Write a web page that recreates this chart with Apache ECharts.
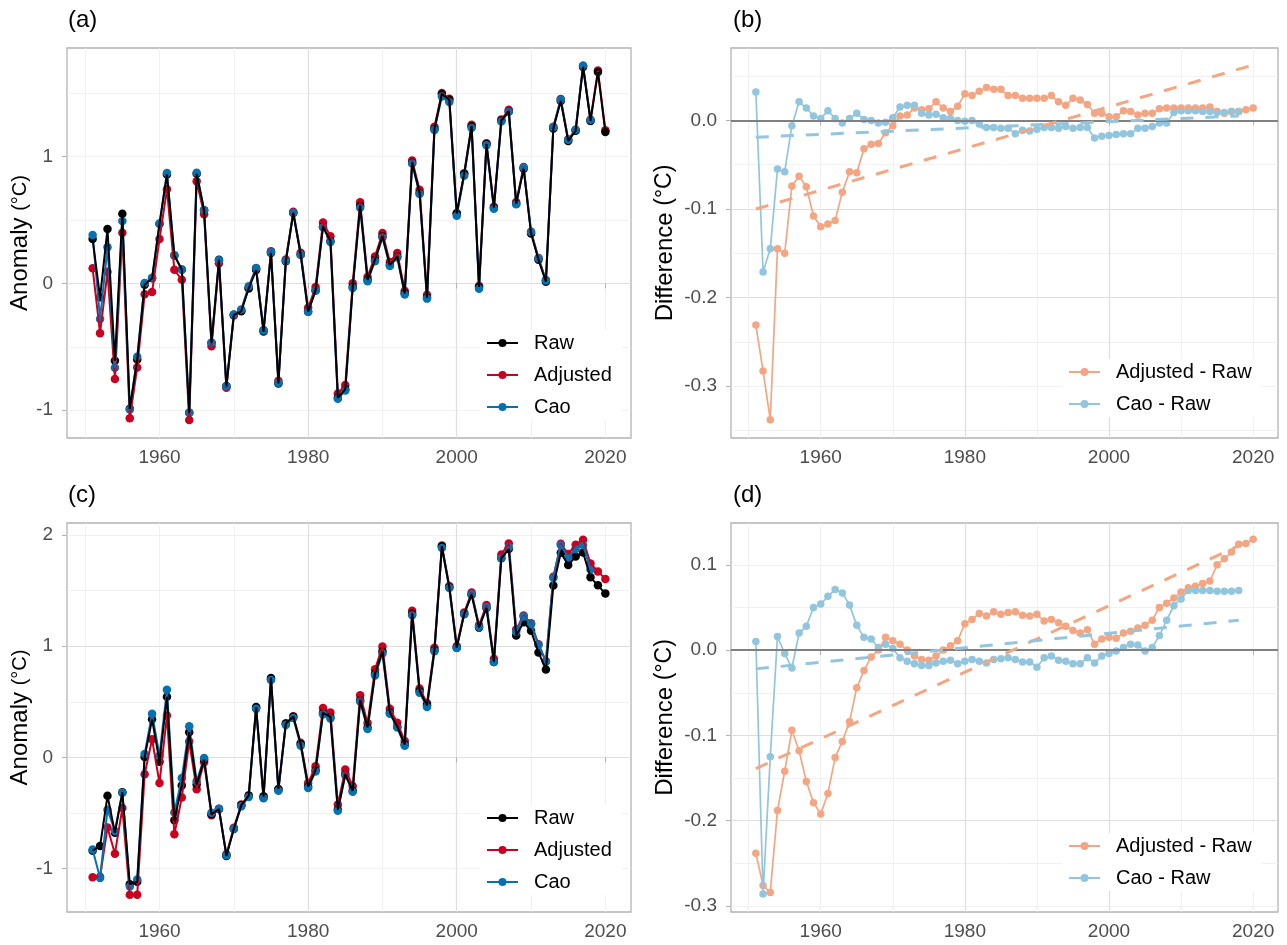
<!DOCTYPE html>
<html>
<head>
<meta charset="utf-8">
<title>Anomaly and difference series</title>
<script src="https://cdn.jsdelivr.net/npm/echarts@6.0.0/dist/echarts.min.js"></script>
<style>
  html, body { margin: 0; padding: 0; background: #fff; }
  #chart { width: 1287px; height: 945px; }
</style>
</head>
<body>
<div id="chart"></div>
<script>
// ---- data ----
const years = [1951, 1952, 1953, 1954, 1955, 1956, 1957, 1958, 1959, 1960,
  1961, 1962, 1963, 1964, 1965, 1966, 1967, 1968, 1969, 1970,
  1971, 1972, 1973, 1974, 1975, 1976, 1977, 1978, 1979, 1980,
  1981, 1982, 1983, 1984, 1985, 1986, 1987, 1988, 1989, 1990,
  1991, 1992, 1993, 1994, 1995, 1996, 1997, 1998, 1999, 2000,
  2001, 2002, 2003, 2004, 2005, 2006, 2007, 2008, 2009, 2010,
  2011, 2012, 2013, 2014, 2015, 2016, 2017, 2018, 2019, 2020];

// panel (a)
const rawA = [0.350, -0.110, 0.430, -0.610, 0.550, -0.990, -0.600, -0.010, 0.040, 0.470,
  0.860, 0.220, 0.110, -1.020, 0.865, 0.577, -0.468, 0.186, -0.810, -0.248,
  -0.220, -0.040, 0.105, -0.380, 0.240, -0.790, 0.175, 0.555, 0.226, -0.223,
  -0.056, 0.448, 0.335, -0.903, -0.836, -0.027, 0.613, 0.028, 0.187, 0.372,
  0.145, 0.212, -0.078, 0.953, 0.715, -0.112, 1.218, 1.495, 1.450, 0.552,
  0.865, 1.241, -0.028, 1.100, 0.598, 1.285, 1.357, 0.628, 0.905, 0.394,
  0.186, 0.013, 1.222, 1.440, 1.125, 1.204, 1.708, 1.282, 1.668, 1.195];
const adjA = [0.119, -0.393, 0.092, -0.755, 0.400, -1.064, -0.663, -0.085, -0.068, 0.350,
  0.743, 0.107, 0.029, -1.078, 0.806, 0.545, -0.495, 0.160, -0.824, -0.254,
  -0.215, -0.034, 0.119, -0.368, 0.253, -0.769, 0.189, 0.565, 0.242, -0.193,
  -0.028, 0.481, 0.372, -0.868, -0.801, 0.001, 0.641, 0.053, 0.212, 0.397,
  0.170, 0.240, -0.057, 0.970, 0.740, -0.089, 1.236, 1.503, 1.458, 0.556,
  0.869, 1.252, -0.018, 1.106, 0.606, 1.293, 1.370, 0.642, 0.919, 0.408,
  0.200, 0.027, 1.236, 1.455, 1.135, 1.212, 1.718, 1.292, 1.680, 1.209];
const caoA = [0.382, -0.281, 0.285, -0.665, 0.492, -0.996, -0.579, 0.004, 0.045, 0.472,
  0.871, 0.222, 0.107, -1.018, 0.873, 0.578, -0.468, 0.183, -0.812, -0.245,
  -0.205, -0.023, 0.122, -0.372, 0.246, -0.783, 0.178, 0.557, 0.226, -0.224,
  -0.056, 0.444, 0.327, -0.911, -0.845, -0.036, 0.598, 0.017, 0.175, 0.362,
  0.137, 0.204, -0.087, 0.946, 0.706, -0.120, 1.210, 1.475, 1.432, 0.535,
  0.849, 1.226, -0.043, 1.091, 0.589, 1.278, 1.354, 0.625, 0.914, 0.405,
  0.197, 0.024, 1.232, 1.450, 1.134, 1.213, 1.718, 1.292];

// panel (b)
const adjDiffB = [-0.231, -0.283, -0.338, -0.145, -0.150, -0.074, -0.063, -0.075, -0.108, -0.120,
  -0.117, -0.113, -0.081, -0.058, -0.059, -0.032, -0.027, -0.026, -0.014, -0.006,
  0.005, 0.006, 0.014, 0.012, 0.013, 0.021, 0.014, 0.010, 0.016, 0.030,
  0.028, 0.033, 0.037, 0.035, 0.035, 0.028, 0.028, 0.025, 0.025, 0.025,
  0.025, 0.028, 0.021, 0.017, 0.025, 0.023, 0.018, 0.008, 0.008, 0.004,
  0.004, 0.011, 0.010, 0.006, 0.008, 0.008, 0.013, 0.014, 0.014, 0.014,
  0.014, 0.014, 0.014, 0.015, 0.010, 0.008, 0.010, 0.010, 0.012, 0.014];
const caoDiffB = [0.032, -0.171, -0.145, -0.055, -0.058, -0.006, 0.021, 0.014, 0.005, 0.002,
  0.011, 0.002, -0.003, 0.002, 0.008, 0.001, 0.000, -0.003, -0.002, 0.003,
  0.015, 0.017, 0.017, 0.008, 0.006, 0.007, 0.003, 0.002, 0.000, -0.001,
  0.000, -0.004, -0.008, -0.008, -0.009, -0.009, -0.015, -0.011, -0.012, -0.010,
  -0.008, -0.008, -0.009, -0.007, -0.009, -0.008, -0.008, -0.020, -0.018, -0.017,
  -0.016, -0.015, -0.015, -0.009, -0.009, -0.007, -0.003, -0.003, 0.009, 0.011,
  0.011, 0.011, 0.010, 0.010, 0.009, 0.009, 0.010, 0.010];
const adjTrendB = [[1951, -0.100], [2020, 0.0625]];
const caoTrendB = [[1951, -0.019], [2018, 0.005]];

// panel (c)
const rawC = [-0.838, -0.797, -0.345, -0.677, -0.313, -1.139, -1.117, 0.003, 0.342, -0.038,
  0.545, -0.565, -0.253, 0.226, -0.243, -0.020, -0.511, -0.464, -0.885, -0.643,
  -0.431, -0.343, 0.452, -0.350, 0.714, -0.284, 0.305, 0.365, 0.120, -0.262,
  -0.115, 0.401, 0.364, -0.469, -0.150, -0.300, 0.513, 0.269, 0.751, 0.954,
  0.402, 0.275, 0.116, 1.290, 0.597, 0.468, 0.962, 1.896, 1.528, 0.986,
  1.288, 1.462, 1.166, 1.343, 0.858, 1.789, 1.872, 1.095, 1.214, 1.137,
  0.943, 0.790, 1.545, 1.838, 1.728, 1.804, 1.840, 1.618, 1.546, 1.472];
const adjC = [-1.076, -1.073, -0.629, -0.865, -0.455, -1.233, -1.235, -0.151, 0.163, -0.230,
  0.377, -0.691, -0.360, 0.142, -0.287, -0.044, -0.519, -0.464, -0.870, -0.632,
  -0.424, -0.343, 0.445, -0.361, 0.702, -0.291, 0.305, 0.370, 0.131, -0.231,
  -0.079, 0.444, 0.404, -0.424, -0.108, -0.256, 0.558, 0.310, 0.791, 0.996,
  0.436, 0.311, 0.148, 1.318, 0.620, 0.488, 0.986, 1.903, 1.541, 1.001,
  1.302, 1.482, 1.188, 1.369, 0.887, 1.824, 1.922, 1.150, 1.275, 1.205,
  1.016, 0.865, 1.623, 1.919, 1.828, 1.911, 1.955, 1.742, 1.671, 1.602];
const caoC = [-0.828, -1.083, -0.470, -0.661, -0.317, -1.160, -1.097, 0.031, 0.392, 0.016,
  0.608, -0.494, -0.186, 0.279, -0.214, -0.005, -0.498, -0.461, -0.878, -0.641,
  -0.440, -0.356, 0.436, -0.368, 0.696, -0.299, 0.292, 0.353, 0.104, -0.275,
  -0.126, 0.388, 0.349, -0.480, -0.160, -0.309, 0.502, 0.255, 0.737, 0.934,
  0.393, 0.268, 0.104, 1.277, 0.581, 0.452, 0.953, 1.881, 1.521, 0.982,
  1.287, 1.465, 1.173, 1.349, 0.857, 1.792, 1.889, 1.130, 1.266, 1.197,
  1.013, 0.860, 1.615, 1.908, 1.797, 1.873, 1.909, 1.688];

// panel (d)
const adjDiffD = [-0.238, -0.276, -0.284, -0.188, -0.142, -0.094, -0.118, -0.154, -0.179, -0.192,
  -0.168, -0.126, -0.107, -0.084, -0.044, -0.024, -0.008, 0.000, 0.015, 0.011,
  0.007, 0.000, -0.007, -0.011, -0.012, -0.007, 0.000, 0.005, 0.011, 0.031,
  0.036, 0.043, 0.040, 0.045, 0.042, 0.044, 0.045, 0.041, 0.040, 0.042,
  0.034, 0.036, 0.032, 0.028, 0.023, 0.020, 0.024, 0.007, 0.013, 0.015,
  0.014, 0.020, 0.022, 0.026, 0.029, 0.035, 0.050, 0.055, 0.061, 0.068,
  0.073, 0.075, 0.078, 0.081, 0.100, 0.107, 0.115, 0.124, 0.125, 0.130];
const caoDiffD = [0.010, -0.286, -0.125, 0.016, -0.004, -0.021, 0.020, 0.028, 0.050, 0.054,
  0.063, 0.071, 0.067, 0.053, 0.029, 0.015, 0.013, 0.003, 0.007, 0.002,
  -0.009, -0.013, -0.016, -0.018, -0.018, -0.015, -0.013, -0.012, -0.016, -0.013,
  -0.011, -0.013, -0.015, -0.011, -0.010, -0.009, -0.011, -0.014, -0.014, -0.020,
  -0.009, -0.007, -0.012, -0.013, -0.016, -0.016, -0.009, -0.015, -0.007, -0.004,
  -0.001, 0.003, 0.007, 0.006, -0.001, 0.003, 0.017, 0.035, 0.052, 0.060,
  0.070, 0.070, 0.070, 0.070, 0.069, 0.069, 0.069, 0.070];
const adjTrendD = [[1951, -0.139], [2020, 0.130]];
const caoTrendD = [[1951, -0.022], [2018, 0.035]];

// tick labels
const xTicks = [1960, 1980, 2000, 2020];
const yTicksA = [-1, 0, 1];
const yTicksB = [-0.3, -0.2, -0.1, 0];
const yTicksC = [-1, 0, 1, 2];
const yTicksD = [-0.3, -0.2, -0.1, 0, 0.1];

// ---- styling ----
const FONT = '"Liberation Sans", Arial, sans-serif';
const COL = {
  raw: '#000000', adj: '#CA0020', cao: '#0571B0',
  adjDiff: '#F4A582', caoDiff: '#92C5DE'
};
const X_RANGE = [1947.55, 2023.45];

const panels = [
  { tag: '(a)', grid: { left: 67, top: 48, width: 564, height: 390 },
    yRange: [-1.22, 1.858], step: 1, minor: 0.5, ticks: yTicksA, digits: 0,
    name: 'Anomaly {u|(°C)}', unitSize: 20, nameGap: 32,
    tagPos: { left: 68, top: 8 }, legendPos: { left: 480, top: 330 } },
  { tag: '(b)', grid: { left: 731, top: 48, width: 547, height: 390 },
    yRange: [-0.3585, 0.0817], step: 0.1, minor: 0.05, ticks: yTicksB, digits: 1,
    name: 'Difference {u|(°C)}', unitSize: 23, nameGap: 54,
    tagPos: { left: 733, top: 8 }, legendPos: { left: 1062, top: 359 } },
  { tag: '(c)', grid: { left: 67, top: 523, width: 564, height: 389 },
    yRange: [-1.389, 2.106], step: 1, minor: 0.5, ticks: yTicksC, digits: 0,
    name: 'Anomaly {u|(°C)}', unitSize: 20, nameGap: 32,
    tagPos: { left: 68, top: 483 }, legendPos: { left: 480, top: 805 } },
  { tag: '(d)', grid: { left: 731, top: 523, width: 547, height: 389 },
    yRange: [-0.307, 0.149], step: 0.1, minor: 0.05, ticks: yTicksD, digits: 1,
    name: 'Difference {u|(°C)}', unitSize: 23, nameGap: 54,
    tagPos: { left: 733, top: 483 }, legendPos: { left: 1062, top: 833 } }
];

function labelFor(ticks, digits) {
  return function (v) {
    return ticks.some(t => Math.abs(t - v) < 1e-9) ? v.toFixed(digits) : '';
  };
}

function minorAxis(gi, pos, range, step) {
  return {
    type: 'value', gridIndex: gi, position: pos, min: range[0], max: range[1],
    minInterval: step, maxInterval: step, splitNumber: 8,
    axisLine: { show: false }, axisTick: { show: false }, axisLabel: { show: false },
    splitLine: { show: true, showMinLine: false, showMaxLine: false,
      lineStyle: { color: '#ededed', width: 0.8 } }
  };
}

function majorAxis(gi, pos, range, step, ticks, digits, extra) {
  return Object.assign({
    type: 'value', gridIndex: gi, position: pos, min: range[0], max: range[1],
    minInterval: step, maxInterval: step, splitNumber: 4,
    axisLine: { show: false },
    axisTick: { show: true, length: 5, customValues: ticks,
      lineStyle: { color: '#b3b3b3', width: 1 } },
    axisLabel: { show: true, color: '#4d4d4d', fontSize: 19, fontFamily: FONT,
      formatter: labelFor(ticks, digits) },
    splitLine: { show: true, showMinLine: false, showMaxLine: false,
      lineStyle: { color: '#dedede', width: 1.2 } }
  }, extra);
}

const pairs = (arr) => arr.map((v, i) => [years[i], v]);

function lineSeries(k, name, arr, color, width) {
  return { type: 'line', name: name, xAxisIndex: 2 * k + 1, yAxisIndex: 2 * k + 1,
    data: pairs(arr), showSymbol: false, symbol: 'circle', silent: true,
    lineStyle: { color: color, width: width }, itemStyle: { color: color } };
}
function pointSeries(k, name, arr, color, size) {
  return { type: 'scatter', name: name, xAxisIndex: 2 * k + 1, yAxisIndex: 2 * k + 1,
    data: pairs(arr), symbol: 'circle', symbolSize: size, silent: true,
    itemStyle: { color: color, opacity: 1 } };
}
function trendSeries(k, name, ends, color) {
  return { type: 'line', name: name, xAxisIndex: 2 * k + 1, yAxisIndex: 2 * k + 1,
    data: ends, showSymbol: false, symbol: 'none', silent: true, z: 5,
    lineStyle: { color: color, width: 3, type: [13, 12], cap: 'butt' } };
}
const zeroLine = {
  silent: true, symbol: ['none', 'none'], label: { show: false },
  lineStyle: { color: '#808080', width: 2, type: 'solid' },
  data: [{ yAxis: 0 }]
};

const xAxis = [], yAxis = [], grid = [], title = [], legend = [];
panels.forEach((p, k) => {
  grid.push(Object.assign({ show: true, borderColor: '#b3b3b3', borderWidth: 1.3,
    backgroundColor: 'transparent', containLabel: false, outerBoundsMode: 'none' }, p.grid));
  xAxis.push(minorAxis(k, 'bottom', X_RANGE, 10));
  xAxis.push(majorAxis(k, 'bottom', X_RANGE, 20, xTicks, 0, { axisLabel: {
    show: true, color: '#4d4d4d', fontSize: 19, fontFamily: FONT, margin: 10,
    formatter: labelFor(xTicks, 0) } }));
  yAxis.push(minorAxis(k, 'left', p.yRange, p.minor));
  yAxis.push(majorAxis(k, 'left', p.yRange, p.step, p.ticks, p.digits, {
    name: p.name, nameLocation: 'middle', nameGap: p.nameGap,
    nameTextStyle: { color: '#000', fontSize: 24, fontFamily: FONT,
      rich: { u: { color: '#000', fontSize: p.unitSize, fontFamily: FONT } } }
  }));
  yAxis[yAxis.length - 1].axisLabel.margin = 14;
  title.push(Object.assign({ text: p.tag, padding: 0,
    textStyle: { color: '#000', fontSize: 24, fontWeight: 'normal', fontFamily: FONT } }, p.tagPos));
  const names = (k % 2 === 0) ? ['Raw', 'Adjusted', 'Cao'] : ['Adjusted - Raw', 'Cao - Raw'];
  legend.push(Object.assign({
    data: names, orient: 'vertical', itemWidth: 31, itemHeight: 10, itemGap: 12,
    backgroundColor: '#ffffff', padding: [3, 10, 3, 6], selectedMode: false,
    textStyle: { color: '#000', fontSize: 20, fontFamily: FONT, lineHeight: 20,
      padding: [0, 0, 0, 11] }
  }, p.legendPos));
});

const series = [
  // (a)
  lineSeries(0, 'Adjusted', adjA, COL.adj, 2),
  lineSeries(0, 'Cao', caoA, COL.cao, 2),
  lineSeries(0, 'Raw', rawA, COL.raw, 2),
  pointSeries(0, 'Adjusted', adjA, COL.adj, 8.5),
  pointSeries(0, 'Raw', rawA, COL.raw, 8.5),
  pointSeries(0, 'Cao', caoA, COL.cao, 8.5),
  // (b)
  Object.assign(lineSeries(1, 'Adjusted - Raw', adjDiffB, COL.adjDiff, 1.7), { markLine: zeroLine }),
  pointSeries(1, 'Adjusted - Raw', adjDiffB, COL.adjDiff, 7.5),
  lineSeries(1, 'Cao - Raw', caoDiffB, COL.caoDiff, 1.7),
  pointSeries(1, 'Cao - Raw', caoDiffB, COL.caoDiff, 7.5),
  trendSeries(1, 'Adjusted - Raw trend', adjTrendB, COL.adjDiff),
  trendSeries(1, 'Cao - Raw trend', caoTrendB, COL.caoDiff),
  // (c)
  lineSeries(2, 'Adjusted', adjC, COL.adj, 2),
  lineSeries(2, 'Cao', caoC, COL.cao, 2),
  lineSeries(2, 'Raw', rawC, COL.raw, 2),
  pointSeries(2, 'Adjusted', adjC, COL.adj, 8.5),
  pointSeries(2, 'Raw', rawC, COL.raw, 8.5),
  pointSeries(2, 'Cao', caoC, COL.cao, 8.5),
  // (d)
  Object.assign(lineSeries(3, 'Adjusted - Raw', adjDiffD, COL.adjDiff, 1.7), { markLine: zeroLine }),
  pointSeries(3, 'Adjusted - Raw', adjDiffD, COL.adjDiff, 7.5),
  lineSeries(3, 'Cao - Raw', caoDiffD, COL.caoDiff, 1.7),
  pointSeries(3, 'Cao - Raw', caoDiffD, COL.caoDiff, 7.5),
  trendSeries(3, 'Adjusted - Raw trend', adjTrendD, COL.adjDiff),
  trendSeries(3, 'Cao - Raw trend', caoTrendD, COL.caoDiff)
];

const chart = echarts.init(document.getElementById('chart'));
chart.setOption({
  animation: false,
  backgroundColor: '#ffffff',
  textStyle: { fontFamily: FONT },
  title: title,
  legend: legend,
  grid: grid,
  xAxis: xAxis,
  yAxis: yAxis,
  series: series
});
</script>
</body>
</html>
